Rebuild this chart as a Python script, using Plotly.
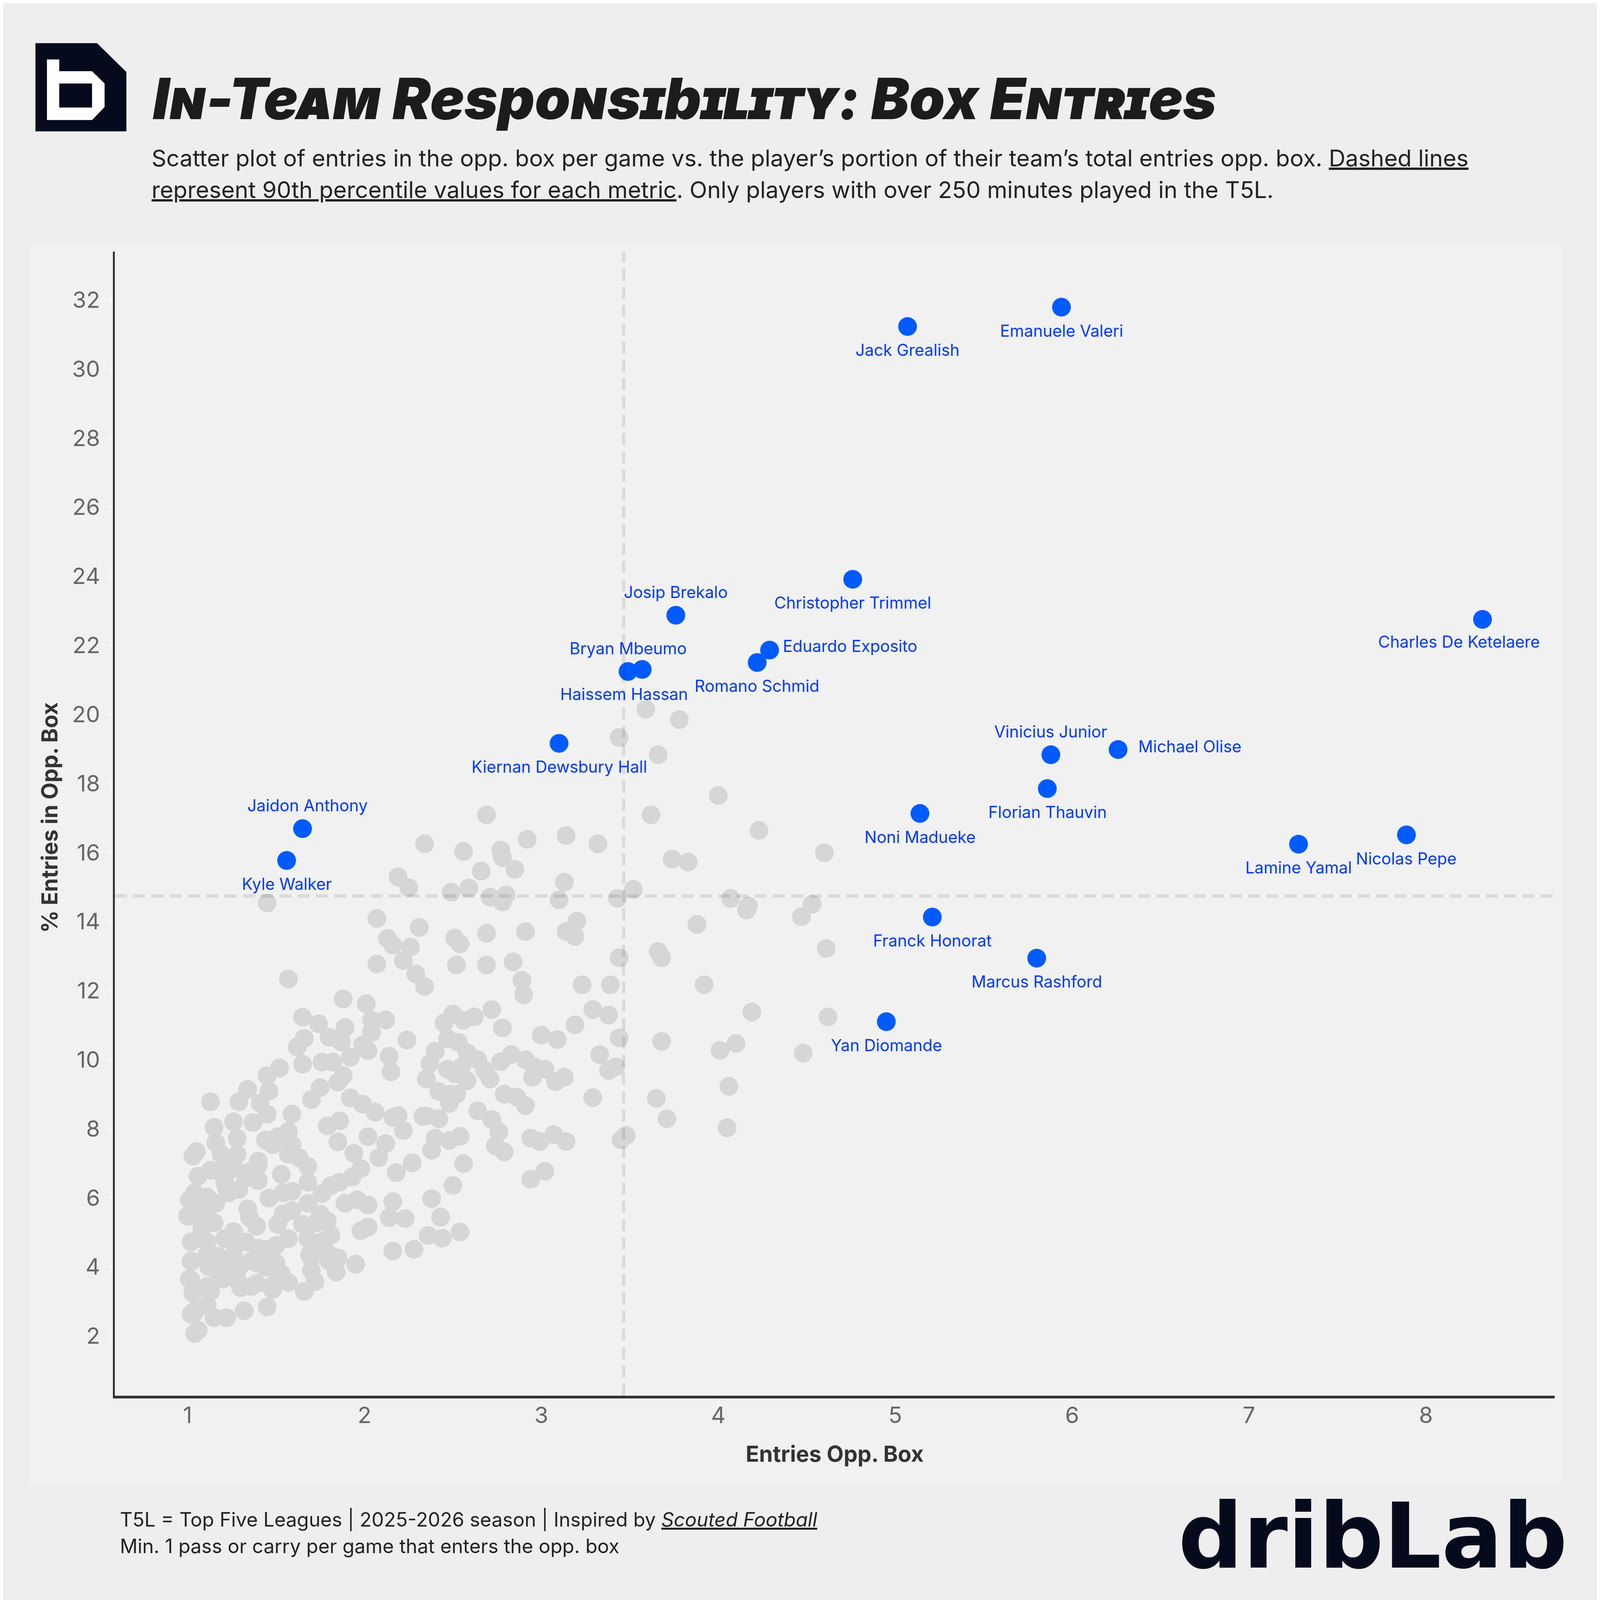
import plotly.graph_objects as go

# grey players (entries opp. box per game, % of team entries)
grey_x = [1.13, 1.34, 1.29, 1.41, 1.46, 1.45, 1.37, 1.59, 1.57, 1.59, 1.48, 1.44, 1.51, 1.15, 1.26, 1.16, 1.28, 1.19, 1.28, 1.05,
          1.03, 1.13, 1.06, 1.40, 1.35, 1.26, 1.21, 1.29, 1.23, 1.40, 1.53, 1.46, 1.54, 1.59, 1.57, 1.63, 1.68, 1.68, 1.70, 1.75,
          1.85, 1.92, 1.99, 2.06, 1.79, 1.86, 1.85, 1.94, 2.02, 2.19, 2.16, 2.22, 2.12, 2.08, 2.18, 2.27, 2.33, 1.98, 1.93, 1.86,
          1.81, 1.76, 1.89, 1.96, 2.02, 2.16, 2.14, 2.23, 2.02, 1.98, 2.16, 2.28, 1.95, 1.84, 1.70, 1.72, 1.66, 1.70, 1.85, 1.79,
          1.81, 1.68, 1.65, 1.75, 1.79, 1.68, 1.57, 1.51, 1.54, 1.59, 1.50, 1.43, 1.39, 1.50, 1.53, 1.57, 1.48, 1.39, 1.30, 1.32,
          1.45, 1.22, 1.15, 1.04, 1.06, 1.04, 1.02, 1.03, 1.13, 1.20, 1.01, 1.02, 1.12, 1.17, 1.02, 1.11, 1.21, 1.33, 1.26, 1.39,
          1.35, 1.34, 1.14, 1.01, 1.10, 1.01, 1.04, 1.16, 1.28, 1.22,
          1.00, 1.04, 1.11, 1.15, 1.08, 1.02, 1.11, 1.17, 1.02, 1.11, 1.18, 1.04, 1.11, 1.26, 1.29, 1.36, 1.28, 1.36, 1.44, 1.47,
          1.51, 1.45, 1.40, 1.26, 1.18, 1.26, 1.33, 1.40, 1.22, 1.73, 1.69, 1.76, 1.80,
          2.50, 2.45, 2.56, 2.62, 2.72, 2.78, 2.47, 2.53, 2.58, 2.64, 2.40, 2.37, 2.35, 2.47, 2.55, 2.58, 2.51, 2.71, 2.68, 2.77,
          2.83, 2.91, 2.96, 3.02, 2.95, 3.08, 3.13, 3.00, 3.09, 3.19, 3.29, 3.38, 3.44, 3.33, 3.42, 3.38, 3.68, 3.29, 3.65, 3.71,
          3.48, 3.45, 2.42, 2.48, 2.52, 2.48, 2.79, 2.86, 2.91, 2.64, 2.72, 2.76, 2.74, 2.79, 2.42, 2.35, 2.40, 2.48, 2.54, 2.38,
          2.56, 2.50, 2.38, 2.43, 2.36, 2.44, 2.54, 2.94, 2.99, 3.07, 3.14, 2.94, 3.02,
          1.45, 2.34, 2.19, 2.25, 2.07, 2.31, 2.13, 2.16, 2.26, 2.22, 2.07, 2.29, 2.34, 1.57, 1.88, 2.01, 1.65, 1.74, 1.89, 2.04,
          2.12, 2.04, 1.80, 1.87, 1.66, 1.62, 1.99, 2.02, 1.92, 2.14, 2.24, 1.65, 1.52, 1.76, 1.82, 2.15, 1.45, 1.88,
          3.66, 4.00, 2.69, 3.62, 2.92, 3.14, 3.32, 2.56, 2.77, 2.78, 2.85, 2.66, 3.74, 3.83, 3.13, 2.59, 2.49, 2.71, 2.80, 2.78,
          3.10, 3.43, 3.52, 4.07, 3.88, 3.20, 3.14, 3.19, 2.69, 2.91, 2.51, 2.54, 3.66, 3.68, 3.44, 2.69, 2.84, 2.52, 2.89, 2.90,
          3.23, 3.39, 3.92, 4.01, 4.10, 4.19,
          3.59, 3.78, 3.44, 4.23, 4.60, 4.53, 4.47, 4.17, 4.16, 4.61, 4.62, 4.48, 4.06, 4.05]
grey_y = [8.78, 9.14, 8.78, 8.74, 9.09, 8.42, 8.18, 8.43, 7.92, 7.54, 7.54, 7.67, 7.77, 8.04, 8.20, 7.59, 7.72, 7.26, 7.26, 7.34,
          7.21, 6.80, 6.63, 7.06, 6.75, 6.85, 6.45, 6.24, 6.14, 6.50, 6.68, 5.99, 6.14, 6.19, 7.26, 7.16, 6.91, 6.45, 8.84, 9.19,
          9.35, 8.89, 8.71, 8.48, 8.08, 8.23, 7.62, 7.29, 7.77, 8.38, 8.33, 7.95, 7.57, 7.16, 6.73, 7.01, 8.36, 6.85, 6.60, 6.45,
          6.35, 6.12, 5.84, 5.94, 5.79, 5.89, 5.43, 5.40, 5.15, 5.05, 4.46, 4.51, 4.08, 3.85, 3.90, 3.57, 3.29, 4.26, 4.26, 4.41,
          4.92, 4.82, 5.23, 5.53, 5.33, 5.84, 4.82, 5.23, 5.53, 5.63, 4.62, 4.51, 4.11, 4.11, 3.80, 3.55, 3.34, 3.52, 3.40, 2.73,
          2.84, 2.53, 2.53, 2.73, 2.17, 2.07, 2.63, 3.24, 3.29, 3.65, 3.65, 4.16, 4.00, 4.31, 4.72, 4.72, 4.82, 4.72, 5.02, 5.18,
          5.43, 5.68, 5.28, 5.48, 5.53, 5.94, 6.14, 5.84, 3.90, 4.16,
          5.47, 5.84, 6.02, 5.28, 5.10, 4.17, 4.36, 3.99, 3.62, 3.43, 3.69, 2.69, 2.88, 4.36, 3.99, 4.17, 3.62, 3.43, 3.99, 3.43,
          3.80, 4.43, 4.54, 4.73, 6.76, 6.95, 6.58, 6.95, 6.28, 5.28, 4.36, 4.73, 4.17,
          11.32, 11.06, 11.14, 11.24, 11.45, 10.92, 10.61, 10.50, 10.20, 10.00, 10.25, 9.89, 9.44, 9.72, 9.79, 9.39, 9.59, 9.44, 9.69, 9.94,
          10.15, 10.00, 9.79, 9.72, 9.49, 9.36, 9.49, 10.71, 10.58, 11.01, 11.45, 11.29, 10.63, 10.15, 9.79, 9.69, 10.53, 8.90, 8.88, 8.29,
          7.81, 7.68, 9.08, 9.00, 9.00, 8.73, 9.00, 8.92, 8.67, 8.52, 8.27, 7.91, 7.50, 7.33, 8.29, 8.37, 7.73, 7.66, 7.78, 7.38,
          6.99, 6.36, 5.98, 5.44, 4.91, 4.83, 5.01, 7.73, 7.63, 7.83, 7.63, 6.54, 6.77,
          14.54, 16.25, 15.29, 14.98, 14.09, 13.83, 13.51, 13.32, 13.26, 12.87, 12.77, 12.48, 12.12, 12.34, 11.76, 11.62, 11.23, 11.04, 10.93, 11.15,
          11.15, 10.79, 10.65, 10.51, 10.62, 10.37, 10.43, 10.26, 10.07, 10.10, 10.57, 9.87, 9.76, 9.93, 9.93, 9.65, 9.54, 9.54,
          18.83, 17.65, 17.09, 17.09, 16.38, 16.49, 16.25, 16.03, 16.07, 15.85, 15.51, 15.46, 15.81, 15.72, 15.14, 14.97, 14.85, 14.71, 14.77, 14.57,
          14.63, 14.67, 14.93, 14.67, 13.92, 14.01, 13.71, 13.57, 13.66, 13.71, 13.52, 13.35, 13.13, 12.95, 12.95, 12.74, 12.83, 12.74, 12.30, 11.88,
          12.17, 12.17, 12.17, 10.27, 10.47, 11.38,
          20.15, 19.85, 19.33, 16.64, 15.99, 14.50, 14.14, 14.45, 14.33, 13.22, 11.24, 10.19, 9.23, 8.03]

# highlighted players
hl_names = ["Jack Grealish", "Emanuele Valeri", "Christopher Trimmel", "Josip Brekalo", "Charles De Ketelaere",
            "Eduardo Exposito", "Romano Schmid", "Bryan Mbeumo", "Haissem Hassan", "Kiernan Dewsbury Hall",
            "Vinicius Junior", "Michael Olise", "Florian Thauvin", "Noni Madueke", "Lamine Yamal", "Nicolas Pepe",
            "Jaidon Anthony", "Kyle Walker", "Franck Honorat", "Marcus Rashford", "Yan Diomande"]
hl_x = [5.07, 5.94, 4.76, 3.76, 8.32, 4.29, 4.22, 3.49, 3.57, 3.10, 5.88, 6.26, 5.86, 5.14, 7.28, 7.89,
        1.65, 1.56, 5.21, 5.80, 4.95]
hl_y = [31.23, 31.79, 23.91, 22.87, 22.75, 21.86, 21.50, 21.24, 21.30, 19.16, 18.83, 18.98, 17.85, 17.13, 16.24, 16.51,
        16.69, 15.77, 14.13, 12.94, 11.10]

# 90th percentile reference values
p90_x = 3.465
p90_y = 14.74

x_ticks = [1, 2, 3, 4, 5, 6, 7, 8]
y_ticks = [2, 4, 6, 8, 10, 12, 14, 16, 18, 20, 22, 24, 26, 28, 30, 32]

# layout is measured on the 6388 px wide reference; the page itself is ~4096 css px wide
REF_W, REF_H = 6388, 6427
S = 4096 / REF_W
OFF = 8  # default body margin of the html page
ML, MR, MT, MB = 459, 181, 1004, 855
PW, PH = REF_W - ML - MR, REF_H - MT - MB


def k(v):
    return v * S


def px(x, y):
    # reference pixels -> paper coords
    return (x - ML) / PW, (REF_H - MB - y) / PH


def path(points):
    pts = [px(a, b) for a, b in points]
    return "M " + " L ".join("{:.5f},{:.5f}".format(a, b) for a, b in pts) + " Z"


FONT = "Inter, Roboto, Arial, sans-serif"
BLUE = "#005bff"
BLUE_TXT = "#0039ff"

fig = go.Figure()
fig.add_trace(go.Scatter(x=grey_x, y=grey_y, mode="markers",
                         marker=dict(color="#d6d6d6", size=k(75), line=dict(width=0)),
                         hoverinfo="skip", showlegend=False))
fig.add_trace(go.Scatter(x=hl_x, y=hl_y, mode="markers", text=hl_names,
                         marker=dict(color=BLUE, size=k(75), line=dict(width=0)),
                         showlegend=False))

# label placement (xshift, yshift, xanchor) in reference pixels
default_pos = {"below": (0, -94, "center"), "above": (0, 92, "center")}
label_pos = {"Josip Brekalo": "above", "Bryan Mbeumo": "above", "Vinicius Junior": "above",
             "Jaidon Anthony": (20, 92, "center"), "Eduardo Exposito": (50, 16, "left"),
             "Michael Olise": (78, 12, "left"), "Charles De Ketelaere": (-94, -90, "center"),
             "Haissem Hassan": (-72, -98, "center")}

annotations = []
for name, x, y in zip(hl_names, hl_x, hl_y):
    p = label_pos.get(name, "below")
    dx, dy, anc = default_pos[p] if isinstance(p, str) else p
    annotations.append(dict(x=x, y=y, xref="x", yref="y", text=name, showarrow=False,
                            xshift=k(dx), yshift=k(dy), xanchor=anc, yanchor="middle",
                            font=dict(family=FONT, size=k(65), color=BLUE_TXT)))


def note(xy, text, size, color="#222222", anchor="left", **font):
    x, y = px(*xy)
    return dict(x=x, y=y, xref="paper", yref="paper", xanchor=anchor, yanchor="middle",
                showarrow=False, text=text, font=dict(family=font.pop("family", FONT), size=k(size),
                                                      color=color, **font))


annotations += [
    note((607, 392), "In-Team Responsibility: Box Entries", 228, color="#1c1c1c",
         weight=900, style="italic", variant="small-caps"),
    note((603, 630), "Scatter plot of entries in the opp. box per game vs. the player’s portion of their "
                     "team’s total entries opp. box. <u>Dashed lines</u>", 92),
    note((603, 757), "<u>represent 90th percentile values for each metric</u>. "
                     "Only players with over 250 minutes played in the T5L.", 92),
    note((476, 6066), "T5L = Top Five Leagues | 2025-2026 season | Inspired by <i><u>Scouted Football</u></i>", 78),
    note((476, 6172), "Min. 1 pass or carry per game that enters the opp. box", 78),
    note((6262, 6134), "dribLab", 362, color="#050b1d", anchor="right",
         family="DejaVu Sans, sans-serif", weight=700),
    note((3333, 5804), "<b>Entries Opp. Box</b>", 88, color="#333333", anchor="center"),
]
yt = note((197, 3264), "<b>% Entries in Opp. Box</b>", 88, color="#333333", anchor="center")
yt["textangle"] = -90
annotations.append(yt)

shapes = []
# light panel behind the chart
x0, y0 = px(122, 5931)
x1, y1 = px(6233, 975)
shapes.append(dict(type="rect", xref="paper", yref="paper", x0=x0, y0=y0, x1=x1, y1=y1,
                   fillcolor="#f1f1f1", line=dict(width=0), layer="below"))
# percentile lines
dash = "{:.1f}px,{:.1f}px".format(k(48), k(25))
shapes.append(dict(type="line", xref="x", yref="paper", x0=p90_x, x1=p90_x, y0=0, y1=1,
                   line=dict(color="rgba(0,0,0,0.09)", width=k(14), dash=dash), layer="above"))
shapes.append(dict(type="line", xref="paper", yref="y", x0=0, x1=1, y0=p90_y, y1=p90_y,
                   line=dict(color="rgba(0,0,0,0.09)", width=k(14), dash=dash), layer="above"))
# "b" logo
shapes.append(dict(type="path", xref="paper", yref="paper", fillcolor="#050b1d", line=dict(width=0),
                   path=path([(142, 172), (388, 172), (505, 287), (505, 524), (142, 524)])))
shapes.append(dict(type="path", xref="paper", yref="paper", fillcolor="#ffffff", line=dict(width=0),
                   path=path([(188, 237), (237, 237), (237, 284), (368, 284), (418, 333), (418, 427),
                              (368, 479), (188, 479)])))
shapes.append(dict(type="path", xref="paper", yref="paper", fillcolor="#050b1d", line=dict(width=0),
                   path=path([(237, 333), (368, 333), (368, 429), (237, 429)])))

fig.update_layout(
    width=round(k(REF_W) - OFF), height=round(k(REF_H) - OFF),
    margin=dict(l=k(ML) - OFF, r=k(MR), t=k(MT) - OFF, b=k(MB), pad=0),
    paper_bgcolor="#eeeeee", plot_bgcolor="rgba(0,0,0,0)",
    annotations=annotations, shapes=shapes,
    showlegend=False,
)
fig.update_xaxes(range=[0.589, 8.728], tickvals=x_ticks, showgrid=False, zeroline=False,
                 showline=True, linecolor="#333333", linewidth=k(11),
                 ticks="outside", ticklen=k(24), tickwidth=k(6), tickcolor="#f8f8f8",
                 ticklabelstandoff=round(k(-34)), tickfont=dict(family=FONT, size=k(90), color="#666666"))
fig.update_yaxes(range=[0.27, 33.4], tickvals=y_ticks, showgrid=False, zeroline=False,
                 showline=True, linecolor="#333333", linewidth=k(8),
                 ticks="outside", ticklen=k(30), tickwidth=k(6), tickcolor="#f8f8f8",
                 ticklabelstandoff=round(k(3)), tickfont=dict(family=FONT, size=k(90), color="#666666"))

fig.write_html("out.html")
